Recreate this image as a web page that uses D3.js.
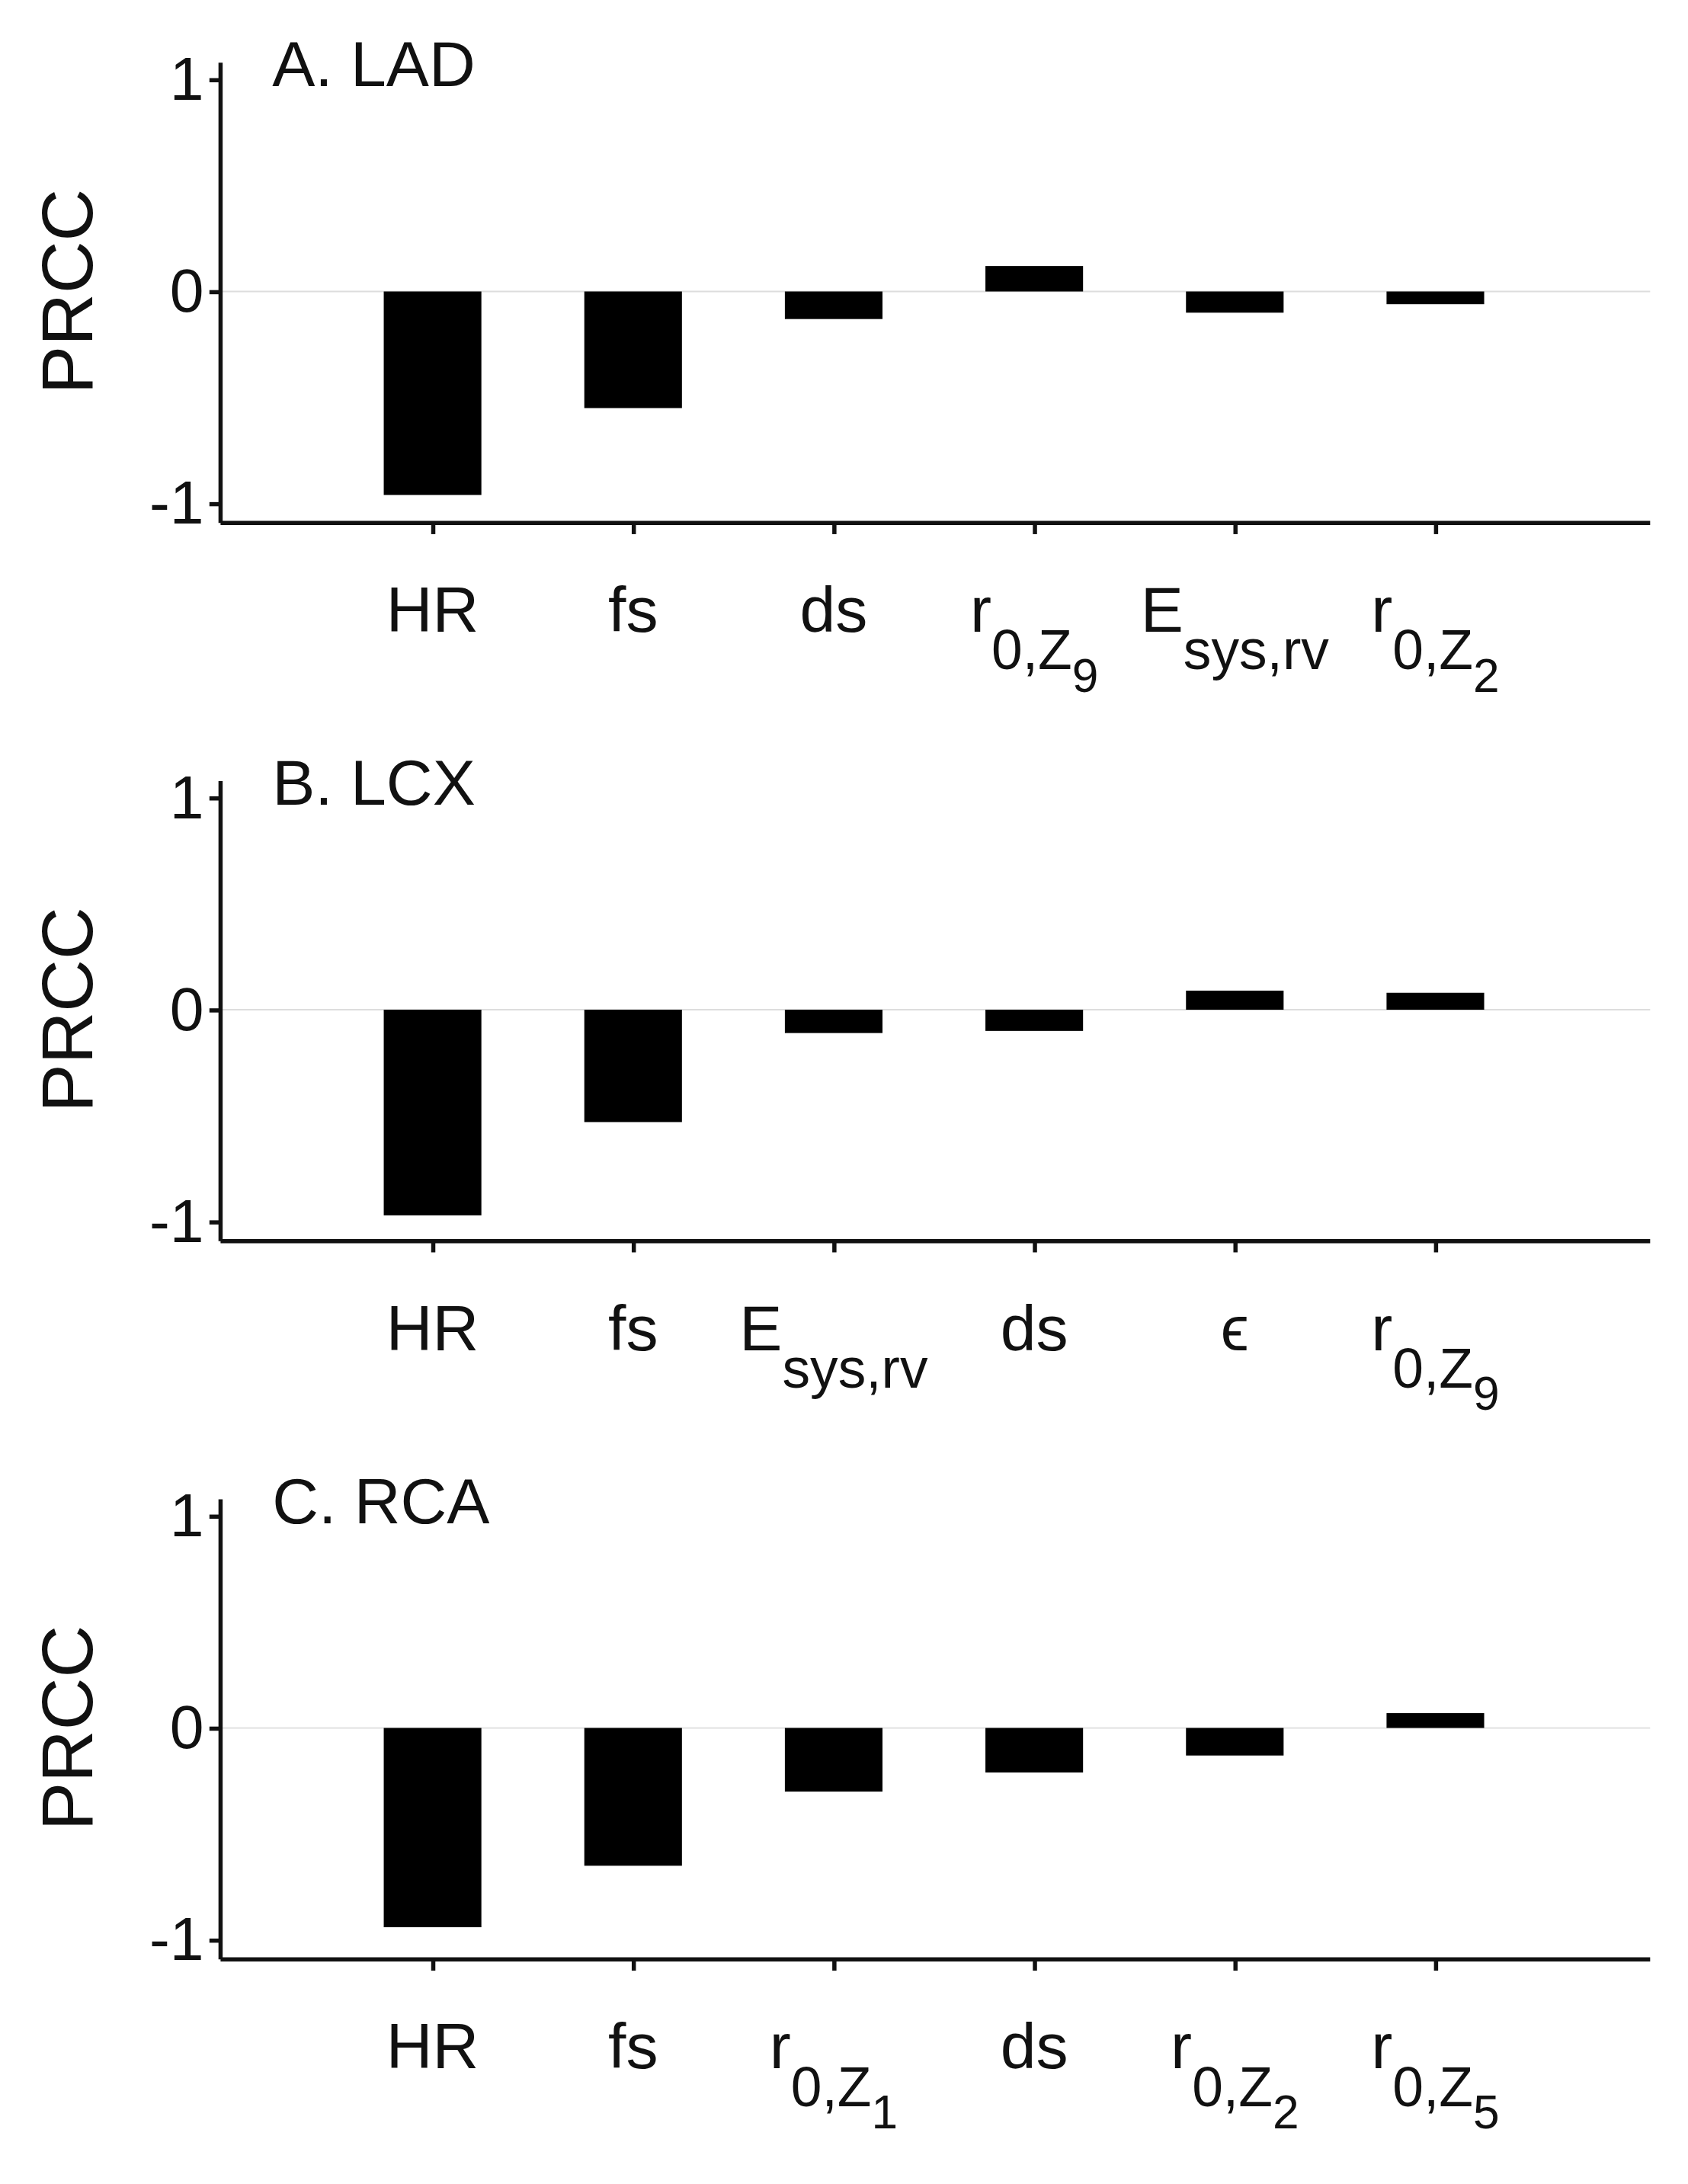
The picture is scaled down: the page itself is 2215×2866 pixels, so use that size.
<!DOCTYPE html>
<html><head><meta charset="utf-8">
<script src="https://cdn.jsdelivr.net/npm/d3@7"></script>
<style>body{margin:0;background:#fff}text{font-family:"Liberation Sans",Arial,sans-serif;fill:#111}</style>
</head><body>
<svg id="c" width="2215" height="2866" viewBox="0 0 1210 1566"></svg>
<script>
// label parts: [text, level] level 0 normal, 1 subscript, 2 sub-subscript
const HR = [["HR", 0]], FS = [["fs", 0]], DS = [["ds", 0]];
const ESYS = [["E", 0], ["sys,rv", 1]];
const EPS = [["\u03F5", 0]];
const r0 = (n) => [["r", 0], ["0,Z", 1], [n, 2]];

const titles = ["A. LAD", "B. LCX", "C. RCA"];
const labelsA = [HR, FS, DS, r0("9"), ESYS, r0("2")];
const labelsB = [HR, FS, ESYS, DS, EPS, r0("9")];
const labelsC = [HR, FS, r0("1"), DS, r0("2"), r0("5")];
const valuesA = [-0.96, -0.55, -0.13, 0.12, -0.10, -0.06];
const valuesB = [-0.97, -0.53, -0.11, -0.10, 0.09, 0.08];
const valuesC = [-0.94, -0.65, -0.30, -0.21, -0.13, 0.07];
const panels = [[labelsA, valuesA], [labelsB, valuesB], [labelsC, valuesC]];

const svg = d3.select("#c");
const x = d3.scaleLinear().domain([1, 6]).range([310, 1029]);

panels.forEach(([labels, values], p) => {
    const off = p * 515;
    const y = d3.scaleLinear().domain([-1, 1]).range([361 + off, 57 + off]);
    const g = svg.append("g");

    g.append("line").attr("x1", 158).attr("x2", 1183).attr("y1", y(0)).attr("y2", y(0))
        .attr("stroke", "#ddd").attr("stroke-width", 1);

    g.selectAll(".bar").data(values).enter().append("rect")
        .attr("x", (d, i) => x(i + 1) - 35).attr("width", 70)
        .attr("y", d => y(Math.max(0, d))).attr("height", d => Math.abs(y(d) - y(0)))
        .attr("fill", "#000");

    // y axis
    const ya = g.append("g").attr("transform", "translate(158,0)")
        .call(d3.axisLeft(y).tickValues([-1, 0, 1]).tickSize(8).tickSizeOuter(0).tickFormat(d => String(d)));
    ya.select(".domain").attr("stroke", "#111").attr("stroke-width", 3).attr("d", `M0,${45 + off}V${375 + off}`);
    ya.selectAll(".tick line").attr("stroke", "#111").attr("stroke-width", 3).attr("x2", -8);
    ya.selectAll(".tick text").attr("x", -12).style("font-size", "44px").style("font-family", "Liberation Sans, Arial").style("fill", "#111");

    // x axis
    const xa = g.append("g").attr("transform", `translate(0,${375 + off})`)
        .call(d3.axisBottom(x).tickValues([1, 2, 3, 4, 5, 6]).tickSize(8).tickSizeOuter(0).tickFormat(""));
    xa.select(".domain").attr("stroke", "#111").attr("stroke-width", 3).attr("d", "M158,0H1183");
    xa.selectAll(".tick line").attr("stroke", "#111").attr("stroke-width", 3);

    labels.forEach((parts, i) => {
        const t = g.append("text").attr("x", x(i + 1)).attr("y", 453 + off).attr("text-anchor", "middle");
        parts.forEach(([s, lvl]) => {
            t.append("tspan").text(s)
                .attr("dy", lvl === 1 ? 27 : lvl === 2 ? 16 : 0)
                .style("font-size", lvl === 0 ? "46px" : lvl === 1 ? "40px" : "34px");
        });
    });

    g.append("text").attr("x", 195).attr("y", 62 + off).text(titles[p]).style("font-size", "46px");
    g.append("text").attr("transform", `translate(66,${y(0)}) rotate(-90)`).attr("text-anchor", "middle")
        .text("PRCC").style("font-size", "52px");
});
</script>
</body></html>
